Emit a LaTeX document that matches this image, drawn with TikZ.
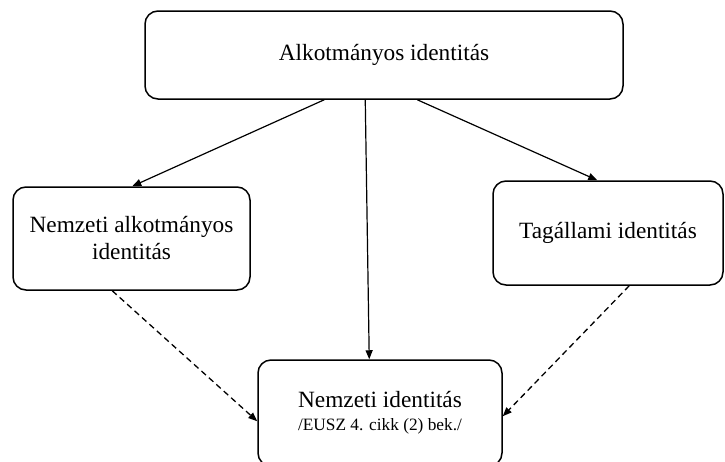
\documentclass[tikz,border=0pt]{standalone}
\usepackage{fontspec}
\setmainfont{Liberation Serif}
\usetikzlibrary{calc,arrows.meta}
\begin{document}
\begin{tikzpicture}[x=1pt,y=-1pt,
  box/.style={draw, line width=1.5pt, rounded corners=13pt, rectangle, align=center,
    inner sep=0pt, font=\fontsize{23.3}{27}\selectfont},
  solidarrow/.style={line width=1.2pt, -{Triangle[length=9pt,width=7pt]}},
  dasharrow/.style={line width=1.3pt, dash pattern=on 6pt off 4pt, -{Triangle[length=9pt,width=7pt]}}]
\useasboundingbox (0,0) rectangle (725,461);
\node[box, minimum width=478pt, minimum height=88pt] (top) at (384,55) {Alkotmányos identitás};
\node[box, minimum width=237pt, minimum height=103pt] (left) at (131.5,238.5) {Nemzeti alkotmányos\\identitás};
\node[box, minimum width=230pt, minimum height=104pt] (right) at (608,233) {Tagállami identitás};
\node[box, minimum width=244pt, minimum height=106pt] (bottom) at (380,413)
  {Nemzeti identitás\\[-4pt]{\fontsize{17.3}{20}\selectfont /EUSZ 4. cikk (2) bek./}};
\draw[solidarrow] ($(top.south west)+(180,0)$) -- ($(left.north west)+(120,0)$);
\draw[solidarrow] ($(top.south west)+(221,0)$) -- ($(bottom.north west)+(112,0)$);
\draw[solidarrow] ($(top.south west)+(273,0)$) -- ($(right.north west)+(105,0)$);
\draw[dasharrow] ($(left.south west)+(100,0)$) -- ($(bottom.north west)+(0,62)$);
\draw[dasharrow] ($(right.south west)+(137,0)$) -- ($(bottom.north east)+(0,57)$);
\end{tikzpicture}
\end{document}
